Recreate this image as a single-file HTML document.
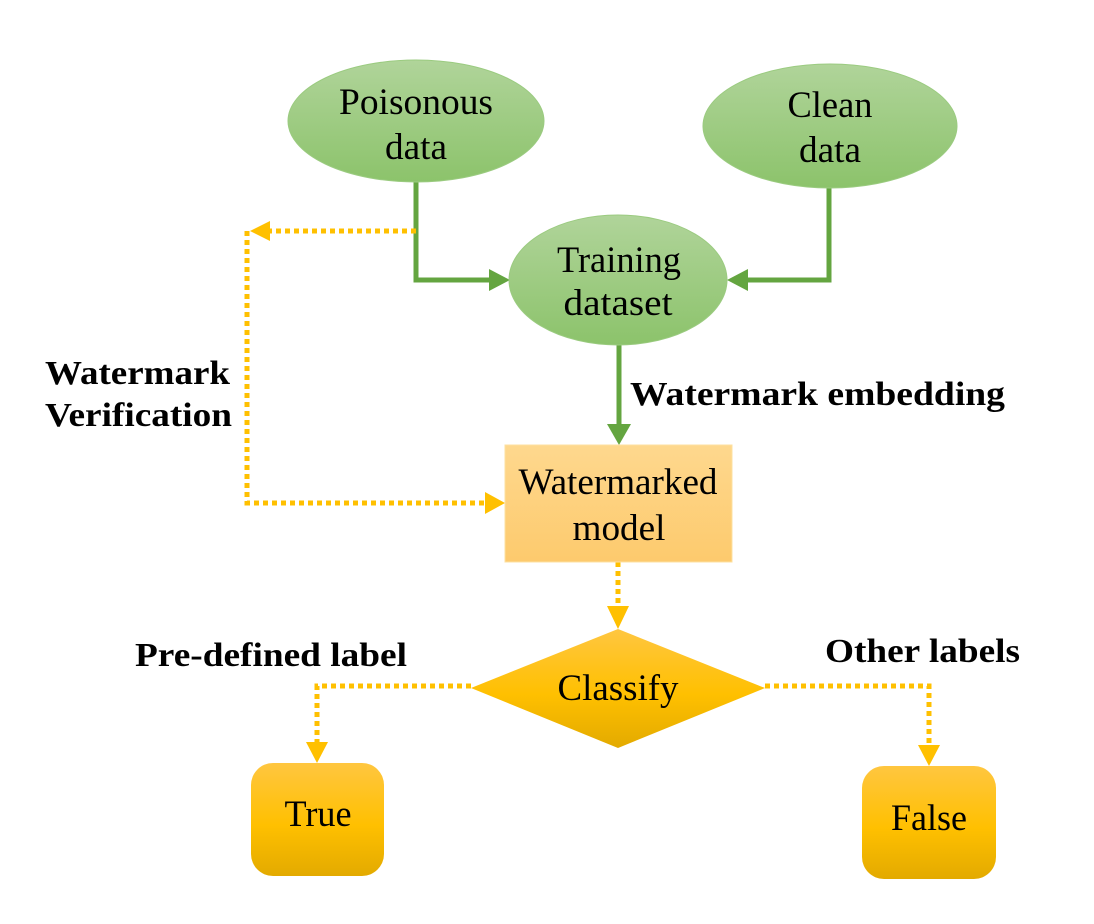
<!DOCTYPE html>
<html><head><meta charset="utf-8"><style>
html,body{margin:0;padding:0;background:#fff;}
svg{display:block;}
text{font-family:"Liberation Serif",serif;fill:#000;}
.n{font-size:37px;text-anchor:middle;}
.b{font-size:34px;font-weight:bold;}
</style></head><body>
<svg width="1094" height="924" viewBox="0 0 1094 924" xmlns="http://www.w3.org/2000/svg">
<defs>
<linearGradient id="g" x1="0" y1="0" x2="0" y2="1"><stop offset="0" stop-color="#b0d49a"/><stop offset="1" stop-color="#8cc36b"/></linearGradient>
<linearGradient id="o" x1="0" y1="0" x2="0" y2="1"><stop offset="0" stop-color="#fed88e"/><stop offset="1" stop-color="#fdca6d"/></linearGradient>
<linearGradient id="y" x1="0" y1="0" x2="0" y2="1"><stop offset="0" stop-color="#ffc640"/><stop offset="0.55" stop-color="#ffc000"/><stop offset="1" stop-color="#e3aa00"/></linearGradient>
</defs>
<g stroke="#64a540" stroke-width="5" fill="none">
<polyline points="416,182 416,280 492,280"/>
<polyline points="829,187 829,280 745,280"/>
<line x1="619" y1="345" x2="619" y2="428"/>
</g>
<g fill="#64a540">
<polygon points="510,280 489,269 489,291"/>
<polygon points="727,280 748,269 748,291"/>
<polygon points="619,445 607,424 631,424"/>
</g>
<g stroke="#ffc000" stroke-width="5" fill="none" stroke-dasharray="5,4">
<polyline points="416,231 268,231"/>
<polyline points="247,231 247,503 488,503"/>
<line x1="618" y1="562" x2="618" y2="608"/>
<polyline points="471,686 317,686 317,745"/>
<polyline points="765,686 929,686 929,748"/>
</g>
<g fill="#ffc000">
<polygon points="250,231 270,221 270,241"/>
<polygon points="505,503 485,492 485,514"/>
<polygon points="618,629 607,606 629,606"/>
<polygon points="317,763 306,742 328,742"/>
<polygon points="929,766 918,745 940,745"/>
</g>
<ellipse cx="416" cy="121" rx="128" ry="61" fill="url(#g)" stroke="#9bcb80" stroke-width="1"/>
<ellipse cx="830" cy="126" rx="127" ry="62" fill="url(#g)" stroke="#9bcb80" stroke-width="1"/>
<ellipse cx="618" cy="280" rx="109" ry="65" fill="url(#g)" stroke="#9bcb80" stroke-width="1"/>
<rect x="505" y="445" width="227" height="117" fill="url(#o)" stroke="#fde0a0" stroke-width="1"/>
<polygon points="618,629 765,688 618,748 471,688" fill="url(#y)"/>
<rect x="251" y="763" width="133" height="113" rx="22" fill="url(#y)"/>
<rect x="862" y="766" width="134" height="113" rx="22" fill="url(#y)"/>
<text class="n" x="416" y="114" textLength="154" lengthAdjust="spacingAndGlyphs">Poisonous</text>
<text class="n" x="416" y="159" textLength="62" lengthAdjust="spacingAndGlyphs">data</text>
<text class="n" x="830" y="117" textLength="85" lengthAdjust="spacingAndGlyphs">Clean</text>
<text class="n" x="830" y="162" textLength="62" lengthAdjust="spacingAndGlyphs">data</text>
<text class="n" x="619" y="272" textLength="124" lengthAdjust="spacingAndGlyphs">Training</text>
<text class="n" x="618" y="315" textLength="109" lengthAdjust="spacingAndGlyphs">dataset</text>
<text class="n" x="618" y="494" textLength="199" lengthAdjust="spacingAndGlyphs">Watermarked</text>
<text class="n" x="619" y="540" textLength="93" lengthAdjust="spacingAndGlyphs">model</text>
<text class="n" x="618" y="700" textLength="121" lengthAdjust="spacingAndGlyphs">Classify</text>
<text class="n" x="318" y="826" textLength="67" lengthAdjust="spacingAndGlyphs">True</text>
<text class="n" x="929" y="830" textLength="76" lengthAdjust="spacingAndGlyphs">False</text>
<text class="b" x="630" y="405" textLength="375" lengthAdjust="spacingAndGlyphs">Watermark embedding</text>
<text class="b" x="45" y="384" textLength="185" lengthAdjust="spacingAndGlyphs">Watermark</text>
<text class="b" x="45" y="426" textLength="187" lengthAdjust="spacingAndGlyphs">Verification</text>
<text class="b" x="135" y="666" textLength="272" lengthAdjust="spacingAndGlyphs">Pre-defined label</text>
<text class="b" x="825" y="662" textLength="195" lengthAdjust="spacingAndGlyphs">Other labels</text>
</svg>
</body></html>
